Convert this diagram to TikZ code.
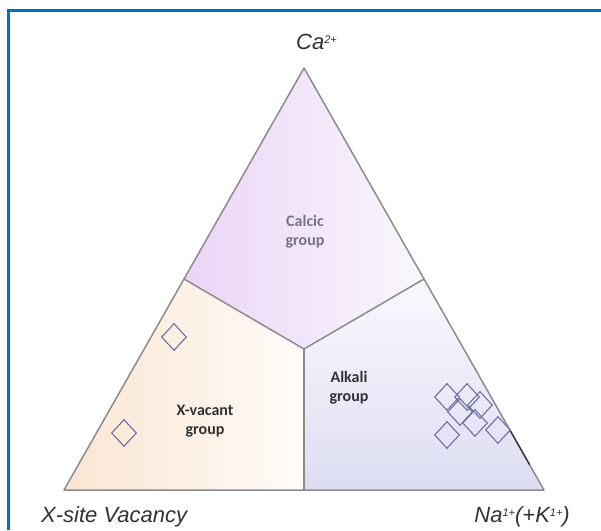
\documentclass[tikz,border=0pt]{standalone}
\usepackage{fontspec}
\setmainfont{Liberation Sans}
\newfontfamily\grpfont{Carlito}
\usetikzlibrary{shapes.geometric,calc}
\definecolor{frm}{RGB}{0,112,192}
\definecolor{edg}{RGB}{140,140,140}
\definecolor{calL}{RGB}{235,212,247}
\definecolor{calM}{RGB}{245,230,247}
\definecolor{calR}{RGB}{250,247,252}
\definecolor{vacL}{RGB}{251,229,210}
\definecolor{vacR}{RGB}{255,252,249}
\definecolor{alkT}{RGB}{250,249,254}
\definecolor{alkB}{RGB}{221,221,243}
\definecolor{mrk}{RGB}{110,110,165}
\definecolor{txt}{RGB}{50,50,50}
\definecolor{calT}{RGB}{120,115,132}
\newcommand{\chg}[1]{\raisebox{6pt}{\fontsize{11}{11}\selectfont #1}}
\tikzset{
  edgeline/.style={edg,line width=1.5pt,line join=round},
  dmd/.style={diamond,draw=mrk,line width=1.1pt,inner sep=0pt,minimum width=25pt,minimum height=27pt},
  vtx/.style={text=txt,font=\fontsize{22}{26}\selectfont\itshape,inner sep=0pt},
  grp/.style={align=center,inner sep=0pt,font=\grpfont\bfseries\fontsize{16}{19}\selectfont}
}

\begin{document}
\begin{tikzpicture}[x=1pt,y=-1pt]
\useasboundingbox (0,0) rectangle (601,530);
\fill[white] (0,0) rectangle (601,530);
% ---- corners of the ternary plot ----
\coordinate (top) at (304,68);
\coordinate (vac) at (64,490);
\coordinate (na) at (544,490);
\coordinate (mid) at (304,349);
\coordinate (mL) at ($(top)!0.5!(vac)$);
\coordinate (mR) at ($(top)!0.5!(na)$);
\coordinate (mB) at ($(vac)!0.5!(na)$);
% ---- group fields ----
\shade[left color=calL,middle color=calM,right color=calR] (top) -- (mR) -- (mid) -- (mL) -- cycle;
\shade[left color=vacL,right color=vacR] (mL) -- (mid) -- (mB) -- (vac) -- cycle;
\shade[top color=alkT,bottom color=alkB] (mR) -- (na) -- (mB) -- (mid) -- cycle;
\draw[edgeline] (mL) -- (mid) -- (mR);
\draw[edgeline] (mid) -- (mB);
\draw[edgeline] (top) -- (na) -- (vac) -- cycle;
\draw[black!80,line width=1.3pt] ($(top)!0.86!(na)$) -- ($(top)!0.94!(na)$);
% ---- analyses ----
\foreach \nm/\px/\py in {d1/174/337,d2/124/433,d3/447/397,d4/467/397,d5/480/405,%
  d6/460/412,d7/475/423,d8/498/430,d9/447/435}
  \node[dmd] (\nm) at (\px,\py) {};
% ---- labels ----
\node[vtx,anchor=base west] (lblCa) at (296,49) {Ca\chg{2+}};
\node[vtx,anchor=base west] (lblVac) at (41,522) {X-site Vacancy};
\node[vtx,anchor=base east] (lblNa) at (570,522) {Na\chg{1+}(+K\chg{1+})};
\node[grp,text=calT] (grpCal) at (305,232) {Calcic\\group};
\node[grp,text=txt] (grpAlk) at (349,388) {Alkali\\group};
\node[grp,text=txt] (grpVac) at (205,421) {X-vacant\\group};
% ---- frame ----
\draw[frm,line width=3pt] (601,10.5) -- (8.5,10.5) -- (8.5,530);
\end{tikzpicture}
\end{document}
